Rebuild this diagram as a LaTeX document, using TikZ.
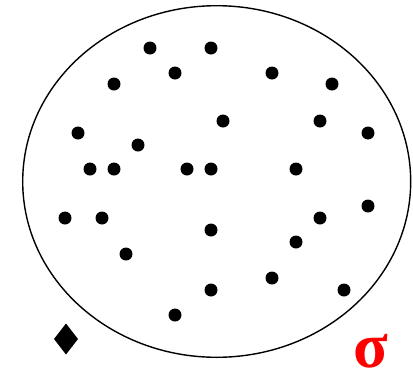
\documentclass[tikz,border=0pt]{standalone}
\usepackage{fontspec}
\newfontfamily\sigfont{Liberation Serif}
\usetikzlibrary{positioning}
\definecolor{cR}{HTML}{FF0000}
\tikzset{
  dot/.style={circle,fill=black,inner sep=0pt,minimum size=13bp},
}
\begin{document}
\begin{tikzpicture}[x=1bp,y=-1bp]
\useasboundingbox (0,0) rectangle (413,375);
% --- the set ---
\draw[line width=1.4bp] (216.7,181.5) ellipse [x radius=194, y radius=175.8];
% --- points ---
\foreach \x/\y [count=\i] in {150/48,211/48,175/73,272/73,114/84,332/84,223/121,320/121,
  78/133,368/133,138/145,90/169,114/169,187/169,211/169,296/169,65/218,102/218,368/206,
  320/218,211/230,296/242,126/254,272/278,211/290,344/290,175/315}
  {\node[dot] (p\i) at (\x,\y) {};}
% --- marks ---
\fill (66,323.5) -- (78,339) -- (66,354.5) -- (54,339) -- cycle;
\node[cR,font=\sigfont\bfseries\fontsize{64}{64}\selectfont,inner sep=0pt,anchor=base] (sig) at (370.5,367.5) {σ};
\end{tikzpicture}
\end{document}
